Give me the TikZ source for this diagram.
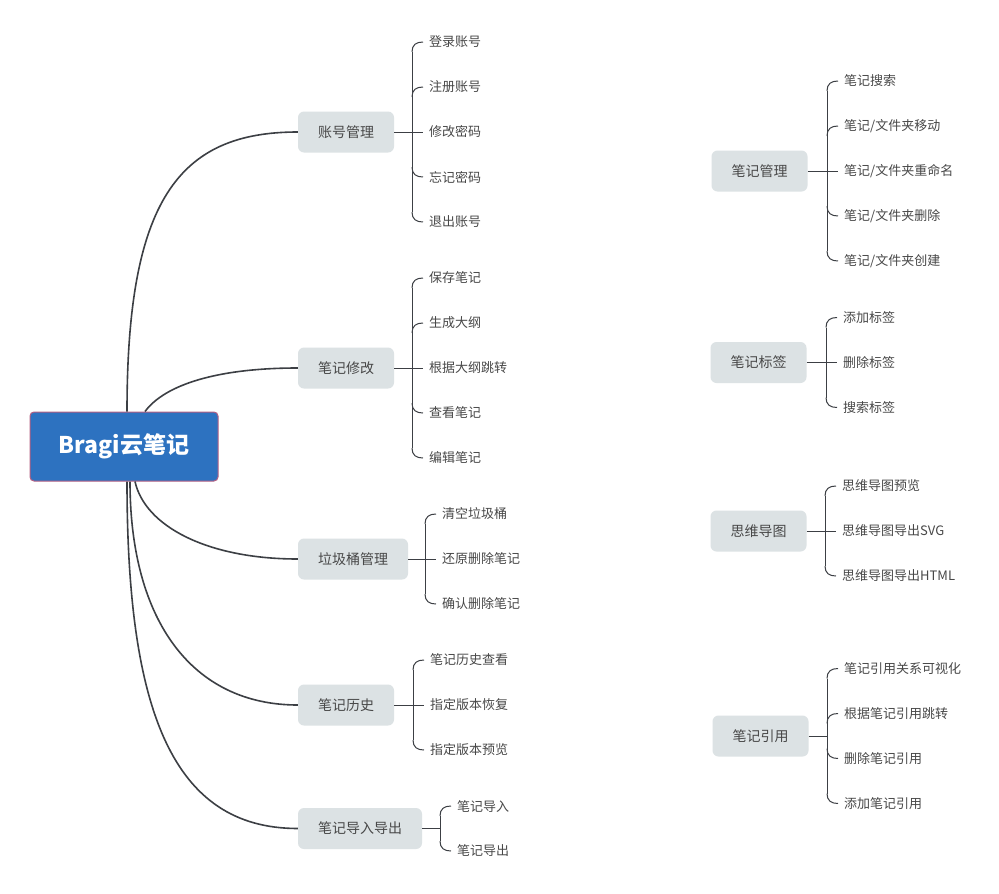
\documentclass[tikz,border=0pt]{standalone}
\usepackage{fontspec}
\setmainfont{Noto Sans CJK SC}
\definecolor{cblue}{RGB}{45,114,192}
\definecolor{cborder}{RGB}{180,95,130}
\definecolor{bgray}{RGB}{220,226,228}
\definecolor{tgray}{RGB}{72,72,72}
\definecolor{linec}{RGB}{60,63,68}
\begin{document}
\begin{tikzpicture}[x=1pt,y=-1pt,
 mainline/.style={draw=linec, line width=1.6pt},
 brk/.style={draw=linec, line width=1pt},
 centerbox/.style={rectangle, rounded corners=4pt, fill=cblue, draw=cborder, line width=1pt, text=white, font=\fontsize{23}{26}\selectfont\bfseries, minimum width=188pt, minimum height=69pt},
 branch/.style={rectangle, rounded corners=6pt, fill=bgray, text=tgray, font=\fontsize{14}{16}\selectfont, minimum height=41pt, inner xsep=20pt},
 leaf/.style={anchor=west, text=tgray, font=\fontsize{13}{15}\selectfont, inner xsep=6pt, inner ysep=2pt},
 upc/.style={to path={(\tikztostart) .. controls +(0,-7) and +(-7,0) .. (\tikztotarget)}},
 dnc/.style={to path={(\tikztostart) .. controls +(0,7) and +(-7,0) .. (\tikztotarget)}}]
\fill[white] (0,0) rectangle (999,894);
\useasboundingbox (0,0) rectangle (999,894);

% center
\node[centerbox] (c) at (124,446.5) {Bragi云笔记};

% left branches
\node[branch] (b1) at (346,132) {账号管理};
\node[branch] (b2) at (346,368) {笔记修改};
\node[branch] (b3) at (353,559) {垃圾桶管理};
\node[branch] (b4) at (346,705) {笔记历史};
\node[branch] (b5) at (360,828.5) {笔记导入导出};

% right branches
\node[branch] (r1) at (759.5,171) {笔记管理};
\node[branch] (r2) at (758.5,362.5) {笔记标签};
\node[branch] (r3) at (758.5,531) {思维导图};
\node[branch] (r4) at (760.5,736) {笔记引用};

% main connectors
\draw[mainline] ([xshift=3pt]c.north) .. controls +(0,-210) and +(-120,0) .. (b1.west);
\draw[mainline] ([xshift=21pt]c.north) .. controls +(20,-27) and +(-80,0) .. (b2.west);
\draw[mainline] ([xshift=11pt]c.south) .. controls +(10,45) and +(-90,0) .. (b3.west);
\draw[mainline] ([xshift=6pt]c.south) .. controls +(0,140) and +(-105,0) .. (b4.west);
\draw[mainline] ([xshift=3pt]c.south) .. controls +(0,230) and +(-125,0) .. (b5.west);

% ---- b1 leaves (spine 412)
\node[leaf] (b1l1) at (423,42) {登录账号};
\node[leaf] (b1l2) at (423,87) {注册账号};
\node[leaf] (b1l3) at (423,132) {修改密码};
\node[leaf] (b1l4) at (423,177) {忘记密码};
\node[leaf] (b1l5) at (423,222) {退出账号};
\draw[brk] (b1.east) -- (b1l3.west);
\draw[brk] ([shift={(-11,10)}]b1l1.west) to[upc] (b1l1.west);
\draw[brk] ([shift={(-11,10)}]b1l2.west) to[upc] (b1l2.west);
\draw[brk] ([shift={(-11,-10)}]b1l4.west) to[dnc] (b1l4.west);
\draw[brk] ([shift={(-11,-10)}]b1l5.west) to[dnc] (b1l5.west);
\draw[brk] ([shift={(-11,10)}]b1l1.west) -- ([shift={(-11,-10)}]b1l5.west);

% ---- b2 leaves (spine 412)
\node[leaf] (b2l1) at (423,278) {保存笔记};
\node[leaf] (b2l2) at (423,323) {生成大纲};
\node[leaf] (b2l3) at (423,368) {根据大纲跳转};
\node[leaf] (b2l4) at (423,413) {查看笔记};
\node[leaf] (b2l5) at (423,458) {编辑笔记};
\draw[brk] (b2.east) -- (b2l3.west);
\draw[brk] ([shift={(-11,10)}]b2l1.west) to[upc] (b2l1.west);
\draw[brk] ([shift={(-11,10)}]b2l2.west) to[upc] (b2l2.west);
\draw[brk] ([shift={(-11,-10)}]b2l4.west) to[dnc] (b2l4.west);
\draw[brk] ([shift={(-11,-10)}]b2l5.west) to[dnc] (b2l5.west);
\draw[brk] ([shift={(-11,10)}]b2l1.west) -- ([shift={(-11,-10)}]b2l5.west);

% ---- b3 leaves (spine 425)
\node[leaf] (b3l1) at (436,514) {清空垃圾桶};
\node[leaf] (b3l2) at (436,559) {还原删除笔记};
\node[leaf] (b3l3) at (436,604) {确认删除笔记};
\draw[brk] (b3.east) -- (b3l2.west);
\draw[brk] ([shift={(-11,10)}]b3l1.west) to[upc] (b3l1.west);
\draw[brk] ([shift={(-11,-10)}]b3l3.west) to[dnc] (b3l3.west);
\draw[brk] ([shift={(-11,10)}]b3l1.west) -- ([shift={(-11,-10)}]b3l3.west);

% ---- b4 leaves (spine 413)
\node[leaf] (b4l1) at (424,660) {笔记历史查看};
\node[leaf] (b4l2) at (424,705) {指定版本恢复};
\node[leaf] (b4l3) at (424,750) {指定版本预览};
\draw[brk] (b4.east) -- (b4l2.west);
\draw[brk] ([shift={(-11,10)}]b4l1.west) to[upc] (b4l1.west);
\draw[brk] ([shift={(-11,-10)}]b4l3.west) to[dnc] (b4l3.west);
\draw[brk] ([shift={(-11,10)}]b4l1.west) -- ([shift={(-11,-10)}]b4l3.west);

% ---- b5 leaves (spine 440)
\node[leaf] (b5l1) at (451,806) {笔记导入};
\node[leaf] (b5l2) at (451,851) {笔记导出};
\draw[brk] (b5.east) -- ([xshift=-11pt]b5l1.west |- b5.east);
\draw[brk] ([shift={(-11,10)}]b5l1.west) to[upc] (b5l1.west);
\draw[brk] ([shift={(-11,-10)}]b5l2.west) to[dnc] (b5l2.west);
\draw[brk] ([shift={(-11,10)}]b5l1.west) -- ([shift={(-11,-10)}]b5l2.west);

% ---- r1 leaves (spine 827)
\node[leaf] (r1l1) at (838,81) {笔记搜索};
\node[leaf] (r1l2) at (838,126) {笔记/文件夹移动};
\node[leaf] (r1l3) at (838,171) {笔记/文件夹重命名};
\node[leaf] (r1l4) at (838,216) {笔记/文件夹删除};
\node[leaf] (r1l5) at (838,261) {笔记/文件夹创建};
\draw[brk] (r1.east) -- (r1l3.west);
\draw[brk] ([shift={(-11,10)}]r1l1.west) to[upc] (r1l1.west);
\draw[brk] ([shift={(-11,10)}]r1l2.west) to[upc] (r1l2.west);
\draw[brk] ([shift={(-11,-10)}]r1l4.west) to[dnc] (r1l4.west);
\draw[brk] ([shift={(-11,-10)}]r1l5.west) to[dnc] (r1l5.west);
\draw[brk] ([shift={(-11,10)}]r1l1.west) -- ([shift={(-11,-10)}]r1l5.west);

% ---- r2 leaves (spine 826)
\node[leaf] (r2l1) at (837,317.5) {添加标签};
\node[leaf] (r2l2) at (837,362.5) {删除标签};
\node[leaf] (r2l3) at (837,407.5) {搜索标签};
\draw[brk] (r2.east) -- (r2l2.west);
\draw[brk] ([shift={(-11,10)}]r2l1.west) to[upc] (r2l1.west);
\draw[brk] ([shift={(-11,-10)}]r2l3.west) to[dnc] (r2l3.west);
\draw[brk] ([shift={(-11,10)}]r2l1.west) -- ([shift={(-11,-10)}]r2l3.west);

% ---- r3 leaves (spine 825)
\node[leaf] (r3l1) at (836,486) {思维导图预览};
\node[leaf] (r3l2) at (836,531) {思维导图导出SVG};
\node[leaf] (r3l3) at (836,576) {思维导图导出HTML};
\draw[brk] (r3.east) -- (r3l2.west);
\draw[brk] ([shift={(-11,10)}]r3l1.west) to[upc] (r3l1.west);
\draw[brk] ([shift={(-11,-10)}]r3l3.west) to[dnc] (r3l3.west);
\draw[brk] ([shift={(-11,10)}]r3l1.west) -- ([shift={(-11,-10)}]r3l3.west);

% ---- r4 leaves (spine 827)
\node[leaf] (r4l1) at (838,668.5) {笔记引用关系可视化};
\node[leaf] (r4l2) at (838,713.5) {根据笔记引用跳转};
\node[leaf] (r4l3) at (838,758.5) {删除笔记引用};
\node[leaf] (r4l4) at (838,803.5) {添加笔记引用};
\draw[brk] (r4.east) -- ([xshift=-11pt]r4l1.west |- r4.east);
\draw[brk] ([shift={(-11,10)}]r4l1.west) to[upc] (r4l1.west);
\draw[brk] ([shift={(-11,10)}]r4l2.west) to[upc] (r4l2.west);
\draw[brk] ([shift={(-11,-10)}]r4l3.west) to[dnc] (r4l3.west);
\draw[brk] ([shift={(-11,-10)}]r4l4.west) to[dnc] (r4l4.west);
\draw[brk] ([shift={(-11,10)}]r4l1.west) -- ([shift={(-11,-10)}]r4l4.west);
\end{tikzpicture}
\end{document}
